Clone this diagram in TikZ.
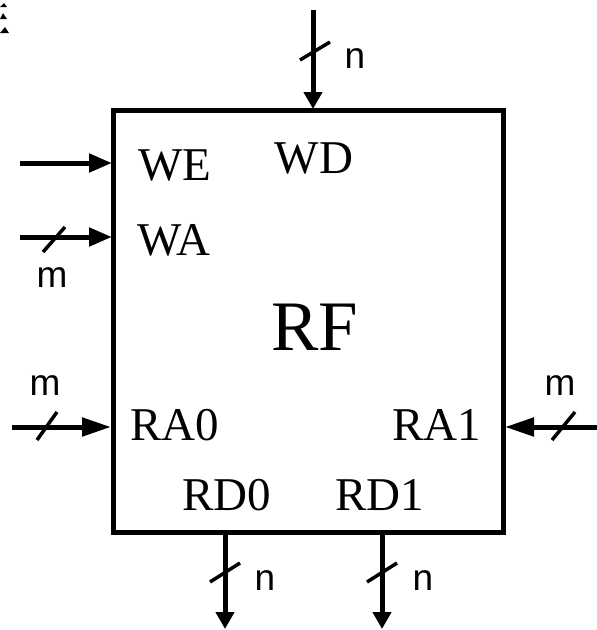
\documentclass[tikz,border=0pt]{standalone}
\usepackage{fontspec}
\setmainfont{Liberation Serif}
\newfontfamily\lsans{Liberation Sans}
\usetikzlibrary{arrows.meta}
\tikzset{
  blk/.style={draw, line width=5pt, minimum width=390pt, minimum height=422pt, inner sep=0pt},
  sig/.style={line width=5pt, -{Triangle[length=#1,width=18pt]}},
  sig/.default=17pt,
  busmark/.style={line width=3.5pt},
  port/.style={anchor=base, inner sep=0pt, font=\fontsize{47}{50}\selectfont},
  big/.style={anchor=base, inner sep=0pt, font=\fontsize{71}{74}\selectfont},
  width/.style={anchor=base, inner sep=0pt, font=\lsans\fontsize{37}{40}\selectfont},
}
\begin{document}
\begin{tikzpicture}[x=1pt,y=-1pt]
\useasboundingbox (0,0) rectangle (597,630);
% corner marks
\fill (0,7) -- (4,3) -- (7,7) -- cycle;
\fill (0,19) -- (3,13) -- (7,19) -- cycle;
\fill (0,33) -- (5,27) -- (9,33) -- cycle;
% block
\node[blk] (rf) at (308,321) {};
% labels
\node[port] (we) at (175,180) {WE};
\node[port] (wd) at (314,173) {WD};
\node[port] (wa) at (174,255) {WA};
\node[big] (rfl) at (315,350) {RF};
\node[port] (ra0) at (175,440) {RA0};
\node[port] (ra1) at (437,440) {RA1};
\node[port] (rd0) at (227,510) {RD0};
\node[port] (rd1) at (380,510) {RD1};
% free ends
\coordinate (wdin) at (313,10);
\coordinate (wdend) at (313,109);
\coordinate (wein) at (20,163);
\coordinate (weend) at (112,163);
\coordinate (wain) at (20,237);
\coordinate (waend) at (112,237);
\coordinate (ra0in) at (12,427);
\coordinate (ra0end) at (111,427);
\coordinate (ra1in) at (597,427);
\coordinate (ra1end) at (505,427);
\coordinate (rd0beg) at (225,532);
\coordinate (rd0out) at (225,629);
\coordinate (rd1beg) at (382,532);
\coordinate (rd1out) at (382,629);
% connectors
\draw[sig] (wdin) -- (wdend);
\draw[sig=23pt] (wein) -- (weend);
\draw[sig=23pt] (wain) -- (waend);
\draw[sig=29pt] (ra0in) -- (ra0end);
\draw[sig=29pt] (ra1in) -- (ra1end);
\draw[sig] (rd0beg) -- (rd0out);
\draw[sig] (rd1beg) -- (rd1out);
% bus slashes
\draw[busmark] (300,60) -- (330,42);
\draw[busmark] (43,252) -- (65,227);
\draw[busmark] (37,440) -- (57,412);
\draw[busmark] (552,440) -- (575,412);
\draw[busmark] (210,582) -- (240,563);
\draw[busmark] (367,582) -- (397,563);
% widths
\node[width] (nwd) at (355,68) {n};
\node[width] (mwa) at (52,287) {m};
\node[width] (mra0) at (45,395) {m};
\node[width] (mra1) at (560,395) {m};
\node[width] (nrd0) at (265,590) {n};
\node[width] (nrd1) at (423,590) {n};
\end{tikzpicture}
\end{document}
